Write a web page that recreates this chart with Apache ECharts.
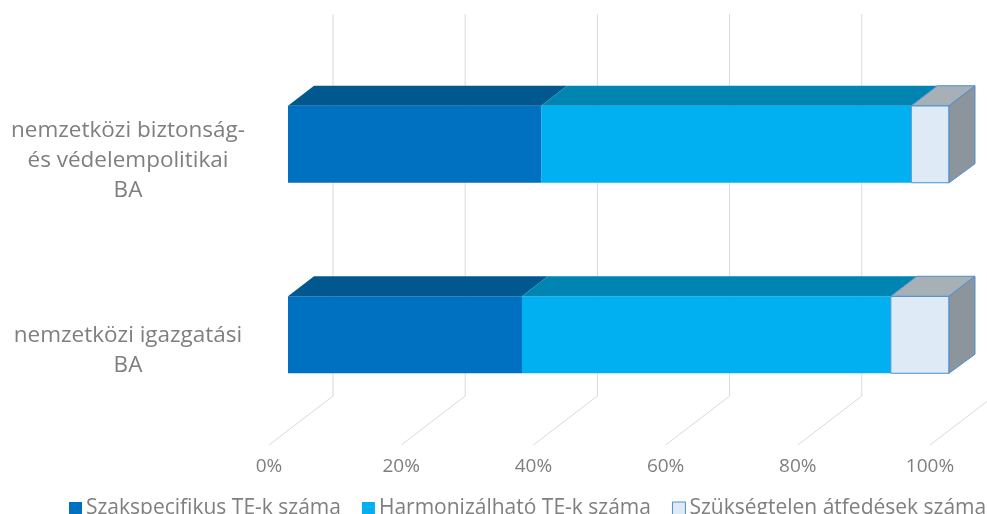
<!DOCTYPE html>
<html>
<head>
<meta charset="utf-8">
<script src="https://cdn.jsdelivr.net/npm/echarts@6/dist/echarts.min.js"></script>
<style>
  html, body { margin: 0; padding: 0; background: #fff; }
  #ChartDom { width: 987px; height: 514px; }
</style>
</head>
<body>
<div id="ChartDom"></div>
<script>
// data (shares in %)
const categories = ["nemzetközi biztonság-\nés védelempolitikai\nBA", "nemzetközi igazgatási\nBA"]
const szakspecifikus = [38.3, 35.4]
const harmonizalhato = [56.0, 55.8]
const szuksegtelen = [5.7, 8.8]
const tickValues = [0, 20, 40, 60, 80, 100]

const textColor = "#7f7f7f"
const font = "'Open Sans', sans-serif"
const depth = { dx: 26, dy: -20 }

// 3D box segment: front face + top face (+ side face for the last segment)
function boxSeries(name, values, starts, colors, last) {
  return {
    name: name,
    type: "custom",
    itemStyle: { color: colors.front, borderColor: colors.border || colors.front },
    z: 3,
    data: values.map((v, i) => [starts[i], starts[i] + v, i]),
    renderItem: (params, api) => {
      const p0 = api.coord([api.value(0), api.value(2)])
      const p1 = api.coord([api.value(1), api.value(2)])
      const h = 77
      const x0 = p0[0], x1 = p1[0], y0 = p0[1] - h / 2, y1 = p0[1] + h / 2
      const stroke = colors.border ? { stroke: colors.border, lineWidth: 1 } : {}
      const children = [
        { type: "rect", shape: { x: x0, y: y0, width: x1 - x0, height: h },
          style: Object.assign({ fill: colors.front }, stroke) },
        { type: "polygon", shape: { points: [[x0, y0], [x1, y0], [x1 + depth.dx, y0 + depth.dy], [x0 + depth.dx, y0 + depth.dy]] },
          style: Object.assign({ fill: colors.top }, stroke) },
      ]
      if (last) {
        children.push({ type: "polygon",
          shape: { points: [[x1, y0], [x1 + depth.dx, y0 + depth.dy], [x1 + depth.dx, y1 + depth.dy + 1], [x1, y1]] },
          style: Object.assign({ fill: colors.side }, stroke) })
      }
      return { type: "group", children: children }
    },
  }
}

const start2 = szakspecifikus
const start3 = szakspecifikus.map((v, i) => v + harmonizalhato[i])

const myChart = echarts.init(document.getElementById("ChartDom"))
myChart.setOption({
  animation: false,
  color: ["#0070c0", "#00b0f0", "#deebf7"],
  grid: { left: 288, right: 38, top: 49, bottom: 84 },
  legend: {
    left: 64, top: 493, width: 1100,
    itemWidth: 13, itemHeight: 13, itemGap: 21,
    textStyle: { color: textColor, fontSize: 21, fontFamily: font, padding: [0, 0, 0, -1] },
    data: [
      { name: "Szakspecifikus TE-k száma", icon: "rect" },
      { name: "Harmonizálható TE-k száma", icon: "rect" },
      { name: "Szükségtelen átfedések száma", icon: "rect", itemStyle: { borderColor: "#4a90d0", borderWidth: 1 } },
    ],
  },
  xAxis: {
    type: "value", min: 0, max: 100, interval: 20,
    axisLine: { show: false }, axisTick: { show: false }, splitLine: { show: false },
    axisLabel: { color: textColor, fontSize: 19, fontFamily: font, margin: 27,
      padding: [0, 38, 0, 0], formatter: "{value}%" },
  },
  yAxis: {
    type: "category", inverse: true, data: categories,
    axisLine: { show: false }, axisTick: { show: false },
    axisLabel: { color: textColor, fontSize: 22.5, fontFamily: font, lineHeight: 30,
      align: "center", margin: 160,
      // an empty first line pushes the label block down like in the original
      formatter: v => "{gap| }\n" + v,
      rich: { gap: { lineHeight: 32, fontSize: 4 } } },
  },
  series: [
    {
      // back wall + floor grid lines
      type: "custom", silent: true, z: 1,
      data: tickValues.map(v => [v, 0]),
      renderItem: (params, api) => {
        const x = api.coord([api.value(0), 0])[0]
        const top = params.coordSys.y, bottom = params.coordSys.y + params.coordSys.height
        return { type: "polyline",
          shape: { points: [[x + 45, top - 35], [x + 45, bottom - 34], [x - 19, bottom + 15]] },
          style: { stroke: "#d9d9d9", lineWidth: 1, fill: null } }
      },
    },
    boxSeries("Szakspecifikus TE-k száma", szakspecifikus, [0, 0],
      { front: "#0070c0", top: "#00588f" }, false),
    boxSeries("Harmonizálható TE-k száma", harmonizalhato, start2,
      { front: "#00b0f0", top: "#0085b3" }, false),
    boxSeries("Szükségtelen átfedések száma", szuksegtelen, start3,
      { front: "#deebf7", top: "#a8b0b7", side: "#8c959c", border: "#4a90d0" }, true),
  ],
})
</script>
</body>
</html>
